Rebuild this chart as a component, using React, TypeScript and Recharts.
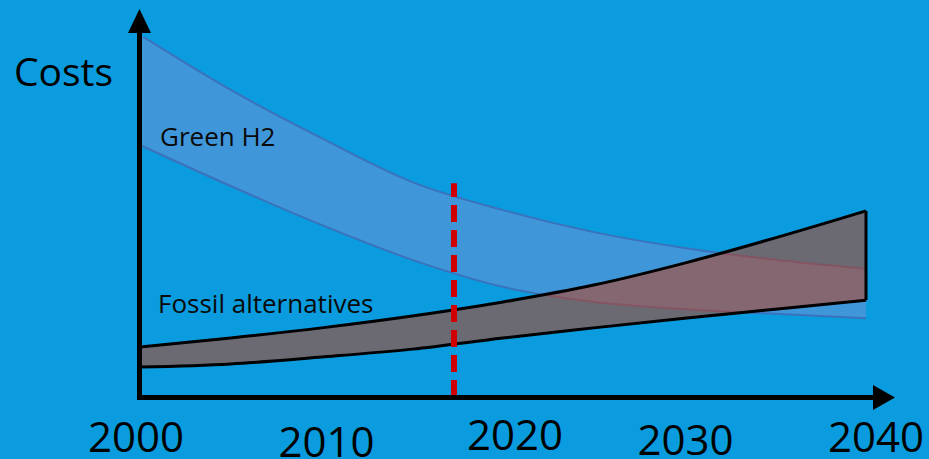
import React from 'react';
import {
  ComposedChart,
  Area,
  XAxis,
  YAxis,
  ReferenceLine,
} from 'recharts';

// values (arbitrary cost units, 0..100)
const years = [2000, 2005, 2010, 2015, 2020, 2025, 2030, 2035, 2040];
const h2High = [100.6, 85.3, 71.9, 59.7, 51.9, 45.8, 41.4, 38.1, 35.6];
const h2Low = [70.0, 58.6, 47.8, 38.1, 30.6, 26.4, 24.4, 23.1, 21.9];
const fossilHigh = [13.9, 16.4, 19.2, 22.5, 26.4, 31.1, 37.2, 44.2, 51.7];
const fossilLow = [8.3, 9.2, 11.1, 13.3, 16.4, 19.2, 21.9, 24.4, 26.9];
const xTicks = [2000, 2010, 2020, 2030, 2040];
const todayYear = 2017.3;
const todayTop = 59.4;

const data = years.map((year, i) => ({
  year,
  h2: [h2Low[i], h2High[i]],
  fossil: [fossilLow[i], fossilHigh[i]],
}));

const W = 929;
const H = 459;
const BG = '#0A9CDE';
const FONT = '"Open Sans", "Noto Sans", sans-serif';

// the hand-placed year labels sit a little off their positions
const tickNudge: Record<number, [number, number]> = {
  2000: [-4, 0],
  2010: [5, 5],
  2020: [12, -2],
  2030: [1, 3],
  2040: [10, 0],
};

const YearTick = ({ x, y, payload }: any) => {
  const [dx, dy] = tickNudge[payload.value] || [0, 0];
  return (
    <text
      x={x + dx}
      y={y + 55 + dy}
      textAnchor="middle"
      fontFamily={FONT}
      fontSize={42}
      fill="#000"
    >
      {payload.value}
    </text>
  );
};

export default function App() {
  const last = years.length - 1;
  return (
    <div
      style={{
        position: 'absolute',
        left: 0,
        top: 0,
        width: W,
        height: H,
        background: BG,
        overflow: 'hidden',
      }}
    >
      <ComposedChart
        width={W}
        height={H}
        data={data}
        margin={{ top: 37, right: 63, left: 140, bottom: 0 }}
      >
        <XAxis
          dataKey="year"
          type="number"
          domain={[2000, 2040]}
          ticks={xTicks}
          height={62}
          axisLine={false}
          tickLine={false}
          tickSize={0}
          tickMargin={0}
          tick={<YearTick />}
        />
        <YAxis hide domain={[0, 100]} allowDataOverflow />
        <Area
          dataKey="h2"
          type="monotone"
          fill="#5596D8"
          fillOpacity={0.7}
          stroke="#3A72BC"
          strokeWidth={2}
          isAnimationActive={false}
        />
        <Area
          dataKey="fossil"
          type="monotone"
          fill="#CC3808"
          fillOpacity={0.5}
          stroke="#000"
          strokeWidth={3}
          isAnimationActive={false}
        />
        <ReferenceLine
          segment={[
            { x: 2040, y: fossilLow[last] },
            { x: 2040, y: fossilHigh[last] },
          ]}
          stroke="#000"
          strokeWidth={3}
        />
        <ReferenceLine
          segment={[
            { x: todayYear, y: 0 },
            { x: todayYear, y: todayTop },
          ]}
          stroke="#D00000"
          strokeWidth={6}
          strokeDasharray="17 8"
        />
      </ComposedChart>
      <svg
        width={W}
        height={H}
        style={{ position: 'absolute', left: 0, top: 0, pointerEvents: 'none' }}
      >
        {/* axes with arrow heads */}
        <line x1={139.5} y1={30} x2={139.5} y2={400} stroke="#000" strokeWidth={5} />
        <polygon points="128,33 151,33 139.5,9" fill="#000" />
        <line x1={137} y1={397.5} x2={876} y2={397.5} stroke="#000" strokeWidth={5} />
        <polygon points="873,385 873,410 895,397.5" fill="#000" />
        <text x={14} y={86} fontFamily={FONT} fontSize={39} fill="#000">
          Costs
        </text>
        <text x={160} y={146} fontFamily={FONT} fontSize={26} fill="#0a0a0a">
          Green H2
        </text>
        <text x={158} y={313} fontFamily={FONT} fontSize={26} fill="#0a0a0a">
          Fossil alternatives
        </text>
      </svg>
    </div>
  );
}
